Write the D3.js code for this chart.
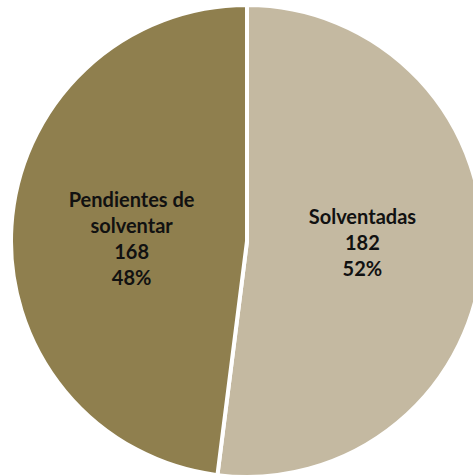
<!DOCTYPE html>
<html>
<head>
<meta charset="utf-8">
<script src="https://cdn.jsdelivr.net/npm/d3@7"></script>
<style>
  body { margin: 0; background: #fff; }
  svg { display: block; }
</style>
</head>
<body>
<div id="chart-area"></div>
<script>

// Data
var categories = ["Solventadas", "Pendientes de solventar"];
var values = [182, 168];
var colors = ["#c4b9a1", "#8f7f4e"];
// label lines per slice (name split as in the picture)
var labelNames = [["Solventadas"], ["Pendientes de", "solventar"]];

var width = 473;
var height = 476;

var cx = 247, cy = 241, radius = 236;

var svg = d3.select("#chart-area").append("svg")
    .attr("width", width)
    .attr("height", height)
  .append("g")
    .attr("transform", "translate(" + cx + "," + cy + ")");

var total = d3.sum(values);

var pie = d3.pie()
    .sort(null)
    .value(function(d){ return d; });

var arc = d3.arc()
    .innerRadius(0)
    .outerRadius(radius);

// where the label blocks sit
var labelArc = d3.arc()
    .innerRadius(radius * 0.49)
    .outerRadius(radius * 0.49);

var arcs = pie(values);

// slices
svg.selectAll("path.slice")
    .data(arcs)
  .enter().append("path")
    .attr("class", "slice")
    .attr("d", arc)
    .attr("fill", function(d, i){ return colors[i]; })
    .attr("stroke", "#fff")
    .attr("stroke-width", 4)
    .attr("stroke-linejoin", "miter");

// labels
var lineH = 26;
var labels = svg.selectAll("text.label")
    .data(arcs)
  .enter().append("text")
    .attr("class", "label")
    .attr("text-anchor", "middle")
    .attr("font-family", "Lato, 'Open Sans', sans-serif")
    .attr("font-weight", "bold")
    .attr("font-size", 20)
    .attr("fill", "#111")
    .each(function(d, i){
      var c = labelArc.centroid(d);
      var lines = labelNames[i].concat([String(values[i]), Math.round(values[i] / total * 100) + "%"]);
      // labels sit close to the horizontal middle
      var y0 = c[1] * 0.3 - (lines.length - 1) * lineH / 2;
      var t = d3.select(this);
      lines.forEach(function(s, k){
        t.append("tspan")
          .attr("x", c[0])
          .attr("y", y0 + k * lineH)
          .attr("dy", "0.35em")
          .text(s);
      });
    });

</script>
</body>
</html>
